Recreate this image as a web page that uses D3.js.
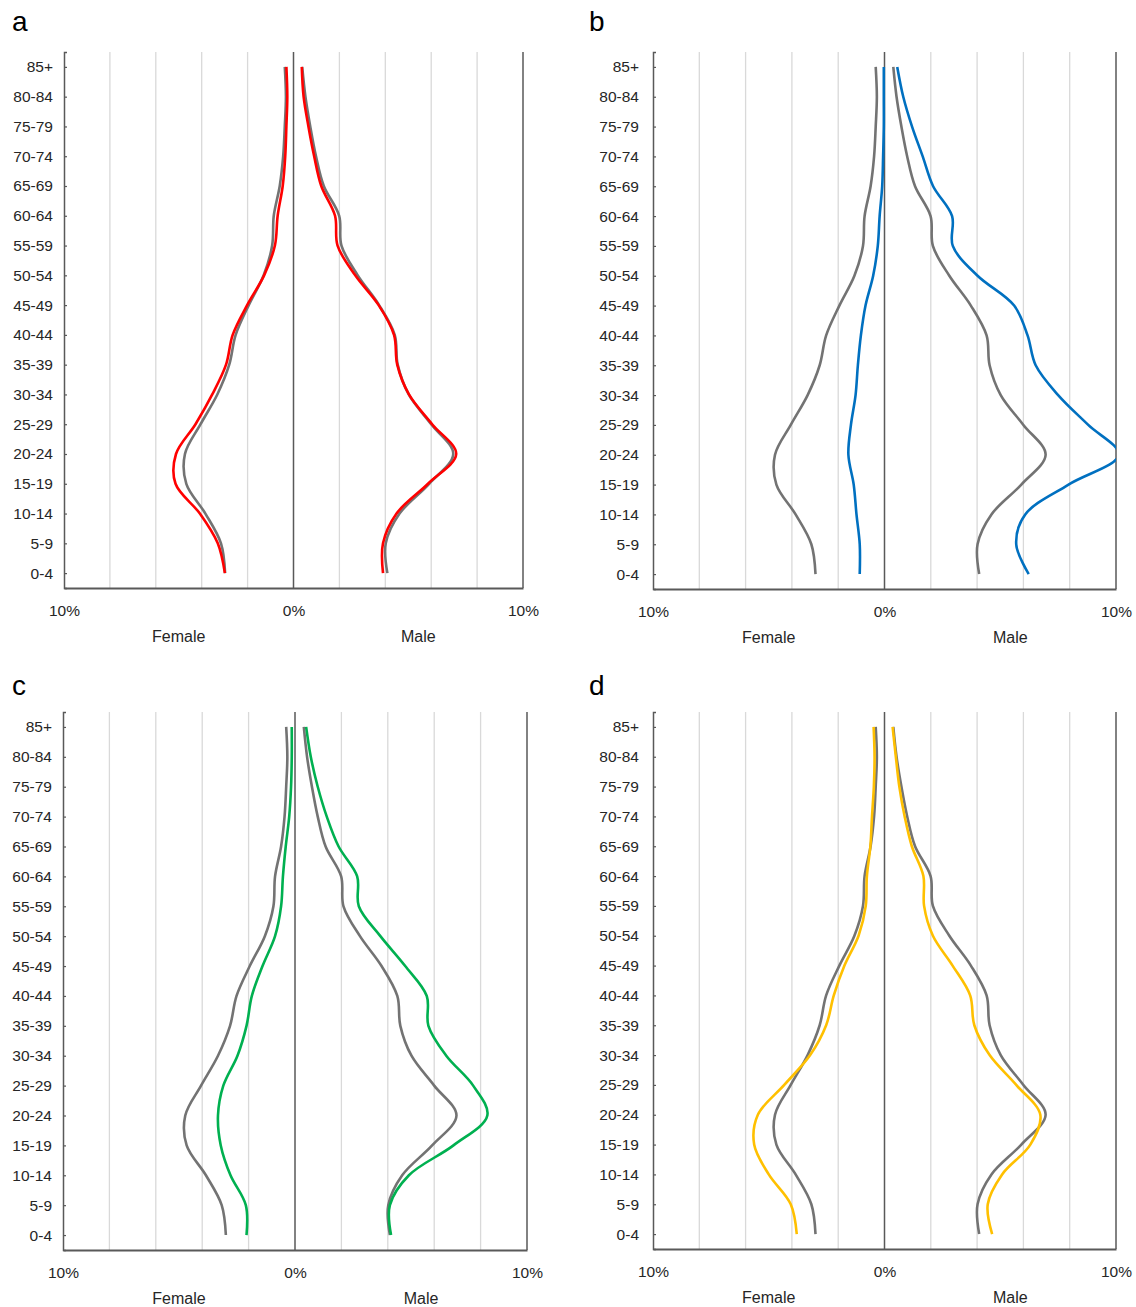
<!DOCTYPE html>
<html>
<head>
<meta charset="utf-8">
<script src="https://cdn.jsdelivr.net/npm/d3@7"></script>
<style>
  body { margin: 0; background: #fff; }
  svg { display: block; font-family: "Liberation Sans", Arial, sans-serif; }
</style>
</head>
<body>
<svg id="chart" width="1136" height="1307"></svg>
<script>
// Age groups, youngest first
const ageGroups = ["0-4","5-9","10-14","15-19","20-24","25-29","30-34","35-39","40-44","45-49","50-54","55-59","60-64","65-69","70-74","75-79","80-84","85+"];

// Reference population (grey line, shared by all panels), % of total
const refFemale = [2.98, 3.16, 3.84, 4.67, 4.73, 4.05, 3.32, 2.80, 2.52, 1.95, 1.30, 0.93, 0.86, 0.60, 0.45, 0.38, 0.33, 0.38];
const refMale   = [4.09, 4.02, 4.62, 5.91, 6.96, 6.00, 5.02, 4.54, 4.41, 3.73, 2.80, 2.09, 1.99, 1.32, 0.98, 0.73, 0.52, 0.38];

// Panel a (red)
const aFemale = [2.99, 3.30, 4.08, 5.14, 5.12, 4.27, 3.54, 2.94, 2.65, 2.02, 1.28, 0.81, 0.69, 0.47, 0.36, 0.31, 0.27, 0.31];
const aMale   = [3.90, 3.90, 4.49, 5.86, 7.09, 6.04, 5.03, 4.52, 4.38, 3.71, 2.69, 1.92, 1.81, 1.21, 0.90, 0.65, 0.44, 0.36];
// Panel b (blue)
const bFemale = [1.07, 1.07, 1.21, 1.33, 1.56, 1.45, 1.25, 1.15, 1.02, 0.82, 0.49, 0.29, 0.21, 0.10, 0.06, 0.03, 0.03, 0.03];
const bMale   = [6.23, 5.69, 6.08, 7.95, 10.12, 8.80, 7.50, 6.53, 6.18, 5.60, 4.02, 2.95, 2.92, 2.10, 1.65, 1.19, 0.81, 0.55];
// Panel c (green)
const cFemale = [2.09, 2.12, 2.78, 3.20, 3.32, 3.09, 2.48, 2.09, 1.86, 1.40, 0.86, 0.60, 0.52, 0.40, 0.25, 0.17, 0.14, 0.14];
const cMale   = [4.14, 4.09, 4.91, 6.83, 8.29, 7.68, 6.52, 5.75, 5.68, 4.75, 3.68, 2.75, 2.68, 1.88, 1.37, 0.98, 0.68, 0.48];
// Panel d (yellow)
const dFemale = [3.79, 4.05, 5.00, 5.63, 5.47, 4.33, 3.21, 2.52, 2.19, 1.73, 1.12, 0.81, 0.76, 0.61, 0.54, 0.46, 0.43, 0.47];
const dMale   = [4.65, 4.46, 5.08, 6.30, 6.73, 5.69, 4.54, 3.88, 3.70, 2.94, 2.09, 1.71, 1.68, 1.18, 0.87, 0.64, 0.49, 0.35];

const panelLabels = ["a","b","c","d"];
const seriesColors = ["#ff0000","#0070c0","#00b050","#ffc000"];
const gridValues = [-8,-6,-4,-2,2,4,6,8];
const xTickValues = [-10, 0, 10];
const sideLabels = ["Female","Male"];

const panelData = [
  {female: aFemale, male: aMale},
  {female: bFemale, male: bMale},
  {female: cFemale, male: cMale},
  {female: dFemale, male: dMale}
];

// Layout (pixel boxes of each plot area)
const boxes = [
  {left: 64,  right: 523,  top: 52,  bottom: 588,  labelX: 12,  labelY: 31,  yPad: 11},
  {left: 653, right: 1116, top: 52,  bottom: 589,  labelX: 589, labelY: 31,  yPad: 14},
  {left: 63,  right: 527,  top: 712, bottom: 1250, labelX: 12,  labelY: 695, yPad: 11},
  {left: 653, right: 1116, top: 712, bottom: 1249, labelX: 589, labelY: 695, yPad: 14}
];

const svg = d3.select("#chart");
const axisColor = "#595959";
const gridColor = "#d9d9d9";
const refColor = "#737373";
const textColor = "#262626";
const fontSize = 15.5;

boxes.forEach((b, i) => {
  const g = svg.append("g");
  const x = d3.scaleLinear().domain([-10, 10]).range([b.left, b.right]);
  const y = d3.scalePoint().domain(ageGroups.slice().reverse()).range([b.top, b.bottom]).padding(0.5);

  // clip
  const clipId = "clip" + i;
  svg.append("clipPath").attr("id", clipId)
    .append("rect").attr("x", b.left).attr("y", b.top - 5)
    .attr("width", b.right - b.left).attr("height", b.bottom - b.top + 5);

  // gridlines
  g.selectAll(".grid").data(gridValues).join("line")
    .attr("x1", d => x(d)).attr("x2", d => x(d))
    .attr("y1", b.top).attr("y2", b.bottom)
    .attr("stroke", gridColor).attr("stroke-width", 1.3);

  // zero line and right border
  [0, 10].forEach(v => {
    g.append("line")
      .attr("x1", x(v)).attr("x2", x(v))
      .attr("y1", b.top).attr("y2", b.bottom)
      .attr("stroke", axisColor).attr("stroke-width", 1.5);
  });

  // y axis
  const yAxis = d3.axisLeft(y).tickSizeInner(-3).tickSizeOuter(-3).tickPadding(b.yPad);
  const ya = g.append("g").attr("transform", `translate(${b.left},0)`).call(yAxis);
  ya.select(".domain").attr("stroke", axisColor).attr("stroke-width", 1.5);
  ya.selectAll(".tick line").attr("stroke", axisColor).attr("stroke-width", 1.2);
  ya.selectAll(".tick text").attr("fill", textColor).style("font-size", fontSize + "px")
    .style("font-family", '"Liberation Sans", Arial, sans-serif');

  // x axis
  const xAxis = d3.axisBottom(x).tickValues(xTickValues).tickSize(0).tickPadding(17)
    .tickFormat(d => Math.abs(d) + "%");
  const xa = g.append("g").attr("transform", `translate(0,${b.bottom})`).call(xAxis);
  xa.select(".domain").attr("stroke", axisColor).attr("stroke-width", 2);
  xa.selectAll(".tick text").attr("fill", textColor).style("font-size", fontSize + "px")
    .style("font-family", '"Liberation Sans", Arial, sans-serif');

  // Female / Male labels
  g.append("text").attr("x", (x(-10) + x(0)) / 2).attr("y", b.bottom + 54)
    .attr("text-anchor", "middle").attr("fill", textColor).style("font-size", "16px")
    .text(sideLabels[0]);
  g.append("text").attr("x", (x(0) + x(10)) / 2 + 10).attr("y", b.bottom + 54)
    .attr("text-anchor", "middle").attr("fill", textColor).style("font-size", "16px")
    .text(sideLabels[1]);

  // panel letter
  svg.append("text").attr("x", b.labelX).attr("y", b.labelY)
    .attr("fill", "#000").style("font-size", "28px").text(panelLabels[i]);

  // lines
  const lineF = d3.line().x(d => x(-d[1])).y(d => y(d[0])).curve(d3.curveCatmullRom.alpha(0.5));
  const lineM = d3.line().x(d => x(d[1])).y(d => y(d[0])).curve(d3.curveCatmullRom.alpha(0.5));
  const zipped = arr => ageGroups.map((a, k) => [a, arr[k]]);

  const lg = g.append("g").attr("clip-path", `url(#${clipId})`).attr("fill", "none")
    .attr("stroke-linejoin", "round").attr("stroke-linecap", "butt");
  lg.append("path").attr("d", lineF(zipped(refFemale))).attr("stroke", refColor).attr("stroke-width", 2.6);
  lg.append("path").attr("d", lineM(zipped(refMale))).attr("stroke", refColor).attr("stroke-width", 2.6);
  lg.append("path").attr("d", lineF(zipped(panelData[i].female))).attr("stroke", seriesColors[i]).attr("stroke-width", 2.6);
  lg.append("path").attr("d", lineM(zipped(panelData[i].male))).attr("stroke", seriesColors[i]).attr("stroke-width", 2.6);
});
</script>
</body>
</html>
